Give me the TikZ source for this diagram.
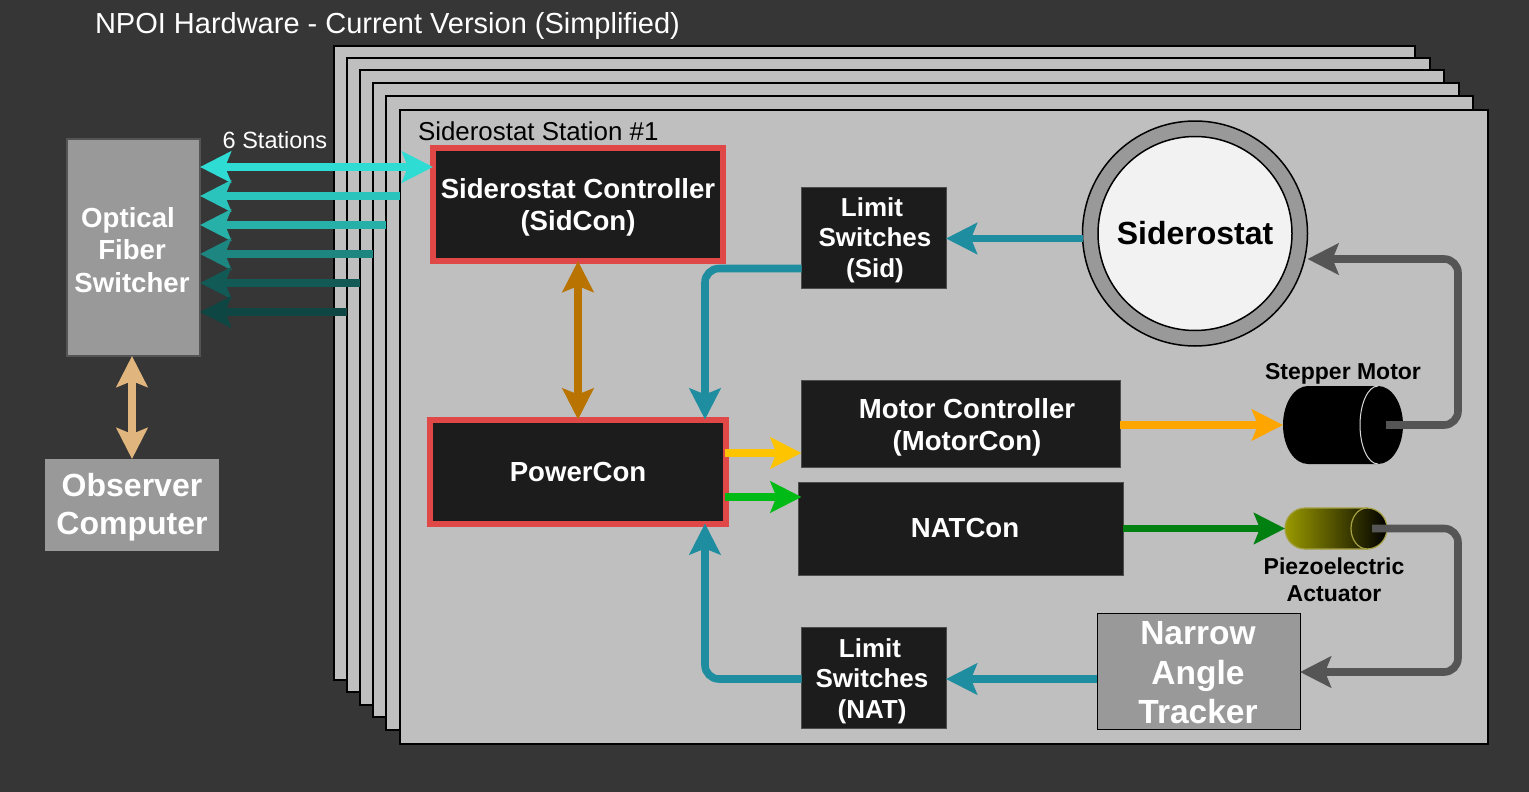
\documentclass[tikz,border=0pt]{standalone}
\usepackage{fontspec}
\setmainfont{Liberation Sans}
\usetikzlibrary{arrows.meta}
\definecolor{bgc}{HTML}{363636}
\definecolor{cardc}{HTML}{BFBFBF}
\definecolor{boxc}{HTML}{1C1C1C}
\definecolor{greyc}{HTML}{999999}
\definecolor{redc}{HTML}{E04848}
\definecolor{tealc}{HTML}{1E8DA0}
\definecolor{shaftc}{HTML}{555555}
\definecolor{fibreA}{RGB}{47,220,212}
\definecolor{fibreB}{RGB}{43,196,189}
\definecolor{fibreC}{RGB}{39,176,168}
\definecolor{fibreD}{RGB}{29,134,128}
\definecolor{fibreE}{RGB}{18,90,86}
\definecolor{fibreF}{RGB}{14,70,68}
\definecolor{creamc}{RGB}{225,182,126}
\definecolor{brownc}{RGB}{184,115,0}
\definecolor{yellowc}{RGB}{255,196,0}
\definecolor{greenc}{RGB}{0,187,21}
\definecolor{orangec}{RGB}{255,165,0}
\definecolor{dgreenc}{RGB}{0,128,16}
\newcommand{\fs}[1]{\fontsize{#1}{#1}\selectfont}
\tikzset{
  x=1pt,y=-1pt,
  every node/.style={inner sep=0pt,outer sep=0pt},
  card/.style={draw=black,line width=1.1pt,fill=cardc},
  darkbox/.style={draw=black!60!cardc,line width=0.8pt,fill=boxc,anchor=north west},
  redbox/.style={draw=redc,line width=6pt,fill=boxc,anchor=north west},
  greybox/.style={fill=greyc,anchor=north west},
  wlabel/.style={text=white,font=\bfseries\fs{27.6},align=center},
  lbl/.style={text=black,font=\bfseries\fs{23},align=center},
  conn/.style={line width=7.6pt,-{Stealth[length=31pt,width=31pt,inset=6pt]},rounded corners=14pt},
  bidir/.style={line width=7.6pt,{Stealth[length=31pt,width=31pt,inset=6pt]}-{Stealth[length=31pt,width=31pt,inset=6pt]}},
}
\begin{document}
\begin{tikzpicture}
\useasboundingbox (0,0) rectangle (1529,792);
\fill[bgc] (0,0) rectangle (1529,792);
% stacked cards
\draw[card] (334,46) rectangle (1415,680);
\draw[card] (347,58) rectangle (1430,692);
\draw[card] (360,70) rectangle (1444,705);
\draw[card] (373,83) rectangle (1459,717);
\draw[card] (386,96) rectangle (1473,730);
\draw[card] (400,110) rectangle (1488,744);
\node[anchor=west,text=white,font=\fs{29}] (title) at (95,26.5) {NPOI Hardware - Current Version (Simplified)};
\node[anchor=west,text=black,font=\fs{25.9}] (station) at (418,131) {Siderostat Station \#1};
\node[anchor=center,text=white,font=\fs{23.5}] (six) at (275,140) {6 Stations};
% boxes
\node[greybox,draw=black!45!greyc,line width=1.5pt,minimum width=133pt,minimum height=217pt] (ofs) at (67,139) {};
\node[wlabel] (ofslabel) at (132,250) {\hspace*{-8pt}Optical\\[5pt]Fiber\\[5pt]Switcher};
\node[greybox,minimum width=174pt,minimum height=92pt] (obs) at (45,459) {};
\node[wlabel,font=\bfseries\fs{32}] (obslabel) at (132,507.5) {Observer\\[6pt]Computer};
\node[redbox,minimum width=290pt,minimum height=113pt] (sidcon) at (433,148) {};
\node[wlabel] (sidconlabel) at (578,207.5) {Siderostat Controller\\[4.5pt](SidCon)};
\node[redbox,minimum width=296pt,minimum height=104pt] (powercon) at (430,419.5) {};
\node[wlabel] (powerlabel) at (578,471.5) {PowerCon};
\node[darkbox,minimum width=144.5pt,minimum height=101pt] (limsid) at (801.5,187) {};
\node[wlabel,font=\bfseries\fs{26}] (limsidl) at (872,240) {Limit\\[4.5pt]\hspace*{6pt}Switches\\[4.5pt]\hspace*{6pt}(Sid)};
\node[darkbox,minimum width=318.5pt,minimum height=86.5pt] (motorcon) at (801.5,380.5) {};
\node[wlabel] (motorl) at (967,427) {Motor Controller\\[4.5pt](MotorCon)};
\node[darkbox,minimum width=324.5pt,minimum height=92.5pt] (natcon) at (798.5,482.5) {};
\node[wlabel] (natl) at (965,528) {NATCon};
\node[darkbox,minimum width=144.5pt,minimum height=100.5pt] (limnat) at (801.5,627.5) {};
\node[wlabel,font=\bfseries\fs{26}] (limnatl) at (872,681) {\hspace*{-4pt}Limit\\[4.5pt]Switches\\[4.5pt](NAT)};
\node[greybox,draw=black,line width=1pt,minimum width=203pt,minimum height=115.5pt] (nat) at (1097,613.5) {};
\node[wlabel,font=\bfseries\fs{33.5}] (natlabel) at (1198,673) {Narrow\\[6pt]Angle\\[6pt]Tracker};
% siderostat
\node[circle,draw=black,line width=1.5pt,fill=greyc,minimum size=225pt] (ring) at (1195,233.5) {};
\node[circle,draw=black,line width=1.5pt,fill=white!95!black,minimum size=194pt,font=\bfseries\fs{32}] (sid) at (1195,233.5) {Siderostat};
% motor
\coordinate (motorin) at (1283,425);
\coordinate (motorshaft) at (1386,425);
\fill[black] (1308,386) -- (1378,386) arc[start angle=-90,end angle=90,x radius=25pt,y radius=-39pt] -- (1308,464) arc[start angle=90,end angle=270,x radius=25pt,y radius=-39pt] -- cycle;
\draw[white!85!black,line width=1pt] (1378,386) arc[start angle=-90,delta angle=-180,x radius=18pt,y radius=-39pt];
\node[lbl] (stepper) at (1343,374) {Stepper Motor};
% piezo
\coordinate (piezoin) at (1285,528.5);
\coordinate (piezoshaft) at (1372,528.5);
\path[left color=yellow!60!black,right color=black,draw=yellow!60!black,line width=1.2pt]
 (1305,508) -- (1367,508) arc[start angle=-90,end angle=90,x radius=20pt,y radius=-20.5pt] -- (1305,549) arc[start angle=90,end angle=270,x radius=20pt,y radius=-20.5pt] -- cycle;
\draw[yellow!60!black,line width=1.2pt] (1367,508) arc[start angle=-90,delta angle=-180,x radius=16pt,y radius=-20.5pt];
\node[lbl,font=\bfseries\fs{23}] (piezolbl) at (1334,580) {Piezoelectric\\[4pt]Actuator};
% station fibres
\coordinate (f1) at (200,167);
\coordinate (f2) at (400,196);
\coordinate (f3) at (386,225);
\coordinate (f4) at (373,254);
\coordinate (f5) at (360,283);
\coordinate (f6) at (347,312);
\coordinate (obsx) at (132,0);
\coordinate (ctrlx) at (578,0);
\coordinate (limy) at (0,238.5);
\coordinate (pcx) at (705,0);
\coordinate (naty) at (0,679);
\coordinate (yely) at (0,453);
\coordinate (grny) at (0,497);
\draw[bidir,fibreA] (ofs.east |- f1) -- (sidcon.west |- f1);
\draw[conn,fibreB] (f2) -- (ofs.east |- f2);
\draw[conn,fibreC] (f3) -- (ofs.east |- f3);
\draw[conn,fibreD] (f4) -- (ofs.east |- f4);
\draw[conn,fibreE] (f5) -- (ofs.east |- f5);
\draw[conn,fibreF] (f6) -- (ofs.east |- f6);
% main connectors
\draw[bidir,creamc] (ofs.south -| obsx) -- (obs.north -| obsx);
\draw[bidir,brownc] (sidcon.south -| ctrlx) -- (powercon.north -| ctrlx);
\draw[conn,tealc] (ring.west |- limy) -- (limsid.east |- limy);
\draw[conn,tealc] ([yshift=-31pt]limsid.west) -| (powercon.north -| pcx);
\draw[conn,tealc] (nat.west |- naty) -- (limnat.east |- naty);
\draw[conn,tealc] (limnat.west |- naty) -| (powercon.south -| pcx);
\draw[conn,yellowc] ([xshift=-1pt]powercon.east |- yely) -- (motorcon.west |- yely);
\draw[conn,greenc] ([xshift=-1pt]powercon.east |- grny) -- (motorcon.west |- grny);
\draw[conn,orangec] (motorcon.east |- motorin) -- (motorin);
\draw[conn,dgreenc] (natcon.east |- piezoin) -- (piezoin);
\draw[conn,shaftc] (motorshaft) -- (1458,425) -- (1458,259) -- (ring.east |- 0,259);
\draw[conn,shaftc] (piezoshaft) -- (1458,528.5) -- (1458,672) -- (nat.east |- 0,672);
\end{tikzpicture}
\end{document}
